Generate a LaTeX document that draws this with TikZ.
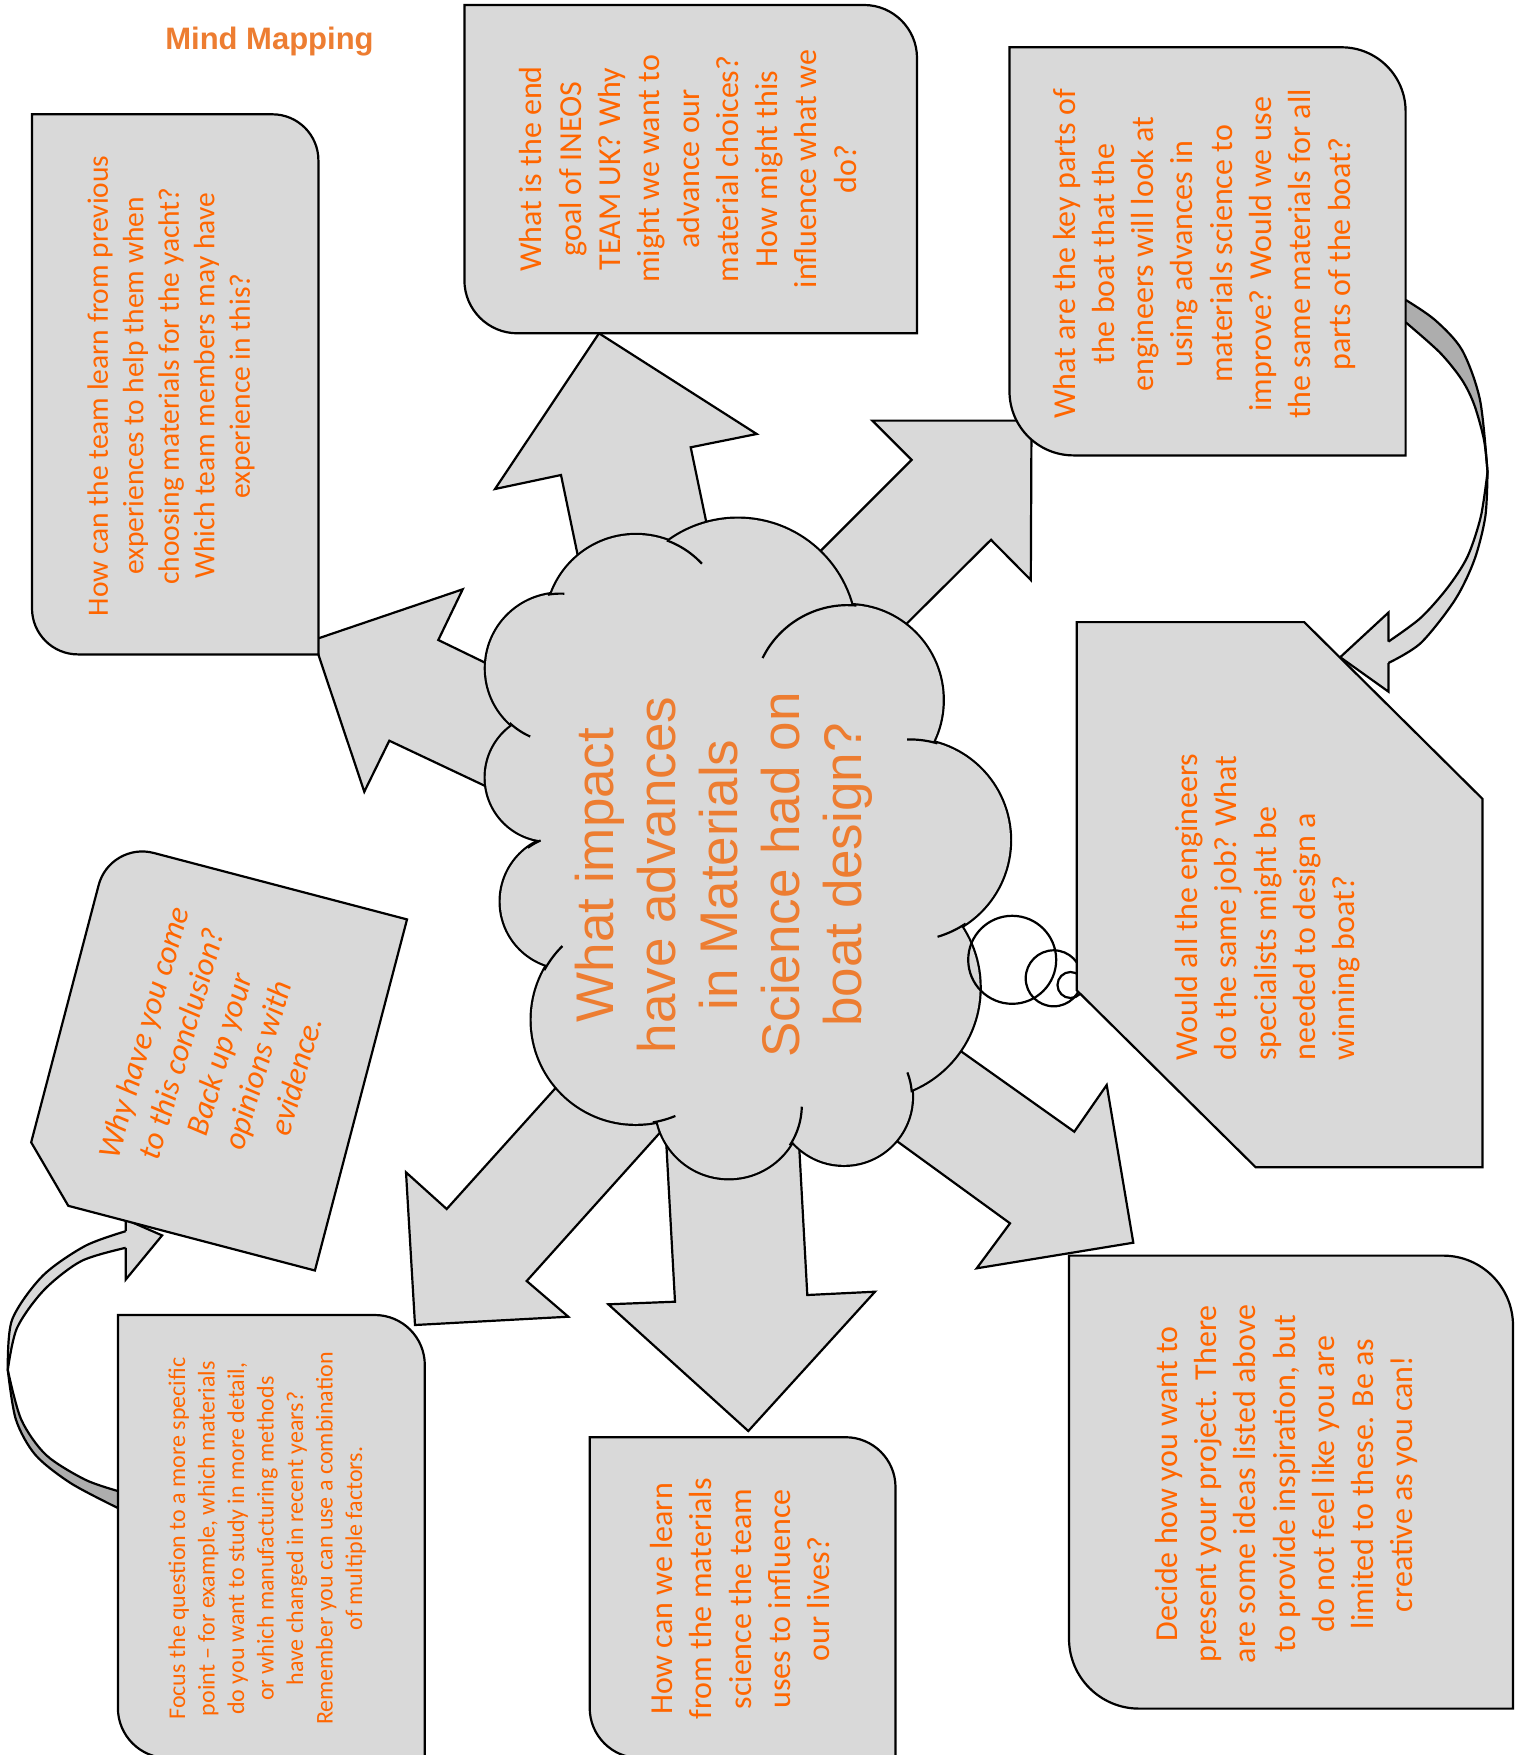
\documentclass[tikz,border=0pt]{standalone}
\usepackage{fontspec}
\setmainfont{Carlito}
\newfontfamily\carlito[Ligatures=TeX]{Carlito}
\newfontfamily\arialf[Ligatures=TeX]{Liberation Sans}
\definecolor{boxgray}{HTML}{D9D9D9}
\definecolor{bandgray}{HTML}{ADADAD}
\definecolor{txtorange}{HTML}{FF6600}
\definecolor{cloudorange}{HTML}{ED7D31}
\tikzset{
  shapeline/.style={draw=black, line width=2.2pt, line join=miter, miter limit=10, fill=boxgray},
  outline/.style={draw=black, line width=2.2pt},
  boxtext/.style={text=txtorange, align=center, rotate=90, inner sep=0pt, font=\carlito\fontsize{32}{39.3}\selectfont},
}
% rounded top-right and bottom-left corners: x1 y1 x2 y2 r
\newcommand\roundbox[5]{%
  \draw[shapeline] (#1,#2) -- ({#3-#5},#2) .. controls ({#3-0.448*#5},#2) and (#3,{#2+0.448*#5}) .. (#3,{#2+#5}) -- (#3,#4) -- ({#1+#5},#4) .. controls ({#1+0.448*#5},#4) and (#1,{#4-0.448*#5}) .. (#1,{#4-#5}) -- cycle;}
\begin{document}
\begin{tikzpicture}[x=1pt,y=-1pt]
\useasboundingbox (0,0) rectangle (1522,1755);
\clip (0,0) rectangle (1522,1755);
\fill[white] (0,0) rectangle (1522,1755);

% ---------- curved arrow upper right ----------
\fill[boxgray] plot[smooth] coordinates {(1487.5,472) (1485.3,516.6) (1474.3,560) (1454.9,600) (1420.8,643) (1388.4,663)} -- (1388.4,691.6) -- (1340.2,657.2) -- (1388.4,612.6) -- (1388.4,641.6) -- plot[smooth] coordinates {(1388.4,641.6) (1420.5,618) (1447.3,588) (1467.4,556.8) (1480.8,516.6) (1487.5,472)} -- cycle;
\fill[bandgray] plot[smooth] coordinates {(1405.8,300) (1435,320) (1462,350) (1480,400) (1487.5,472)} -- plot[smooth] coordinates {(1487.5,472) (1484,440) (1474.3,405) (1462,380) (1440,352.7) (1405.8,322.4)} -- cycle;
\draw[outline] plot[smooth] coordinates {(1405.8,300) (1435,320) (1462,350) (1480,400) (1487.5,472)};
\draw[outline] plot[smooth] coordinates {(1487.5,472) (1485.3,516.6) (1474.3,560) (1454.9,600) (1420.8,643) (1388.4,663)};
\draw[outline] plot[smooth] coordinates {(1405.8,322.4) (1440,352.7) (1462,380) (1474.3,405) (1484,440) (1487.5,472)};
\draw[outline] plot[smooth] coordinates {(1388.4,641.6) (1420.5,618) (1447.3,588) (1467.4,556.8) (1480.8,516.6) (1487.5,472)};
\draw[outline, line join=miter] (1388.4,641.6) -- (1388.4,612.6) -- (1340.2,657.2) -- (1388.4,691.6) -- (1388.4,663);

% ---------- curved arrow lower left ----------
\fill[bandgray] plot[smooth] coordinates {(117.9,1508) (70.8,1483.2) (35.4,1454.9) (15.9,1419.5) (7.8,1370)} -- plot[smooth] coordinates {(7.8,1370) (21.2,1419.5) (46,1454.9) (85,1479.6) (117.9,1491)} -- cycle;
\fill[boxgray] plot[smooth] coordinates {(7.8,1370) (12,1320) (42.5,1276) (85,1246) (125.7,1231.2)} -- (125.7,1219.5) -- (162.1,1235.4) -- (125.7,1279.6) -- (125.7,1247.8) -- plot[smooth] coordinates {(125.7,1247.8) (81.4,1261) (44,1290) (17,1328) (7.8,1370)} -- cycle;
\draw[outline] plot[smooth] coordinates {(117.9,1508) (70.8,1483.2) (35.4,1454.9) (15.9,1419.5) (7.8,1370)};
\draw[outline] plot[smooth] coordinates {(7.8,1370) (21.2,1419.5) (46,1454.9) (85,1479.6) (117.9,1491)};
\draw[outline] plot[smooth] coordinates {(7.8,1370) (12,1320) (42.5,1276) (85,1246) (125.7,1231.2)};
\draw[outline] plot[smooth] coordinates {(125.7,1247.8) (81.4,1261) (44,1290) (17,1328) (7.8,1370)};
\draw[outline, line join=miter] (125.7,1231.2) -- (125.7,1219.5) -- (162.1,1235.4) -- (125.7,1279.6) -- (125.7,1247.8);

% ---------- block arrows ----------
\draw[shapeline] (313.5,640) -- (462.7,589.3) -- (438.3,640) -- (560,699) -- (560,821.3) -- (389.3,740.7) -- (364.3,791.7) -- cycle;
\draw[shapeline] (599,333.3) -- (756.7,434) -- (690.7,447.3) -- (726.7,620) -- (591.2,620) -- (561,475) -- (495,489) -- cycle;
\draw[shapeline] (872.3,420.6) -- (1031.5,420.6) -- (1030.8,580) -- (991,539.8) -- (850,680) -- (780,591.5) -- (911.6,459.9) -- cycle;
\draw[shapeline] (900,1008) -- (1074.3,1131.7) -- (1106.7,1085) -- (1133.3,1242.7) -- (976.7,1268.3) -- (1010,1223.3) -- (850,1107) -- cycle;
\draw[shapeline] (662.8,1080) -- (675,1301.7) -- (608.3,1304.3) -- (748.3,1431) -- (875,1291.7) -- (807.3,1295) -- (796.1,1090) -- cycle;
\draw[shapeline] (600,1038.7) -- (446.7,1209) -- (406,1172.3) -- (415,1325) -- (568.3,1316.7) -- (526.7,1281) -- (690,1099.2) -- cycle;

% ---------- cloud ----------
\foreach \cx/\cy/\r in {636/625/90, 737.8/636.7/118, 847.7/700.1/95, 909.3/840.1/100.7, 868.8/987.6/110.8, 843.9/1096.8/68, 728.8/1105.2/73, 635.7/1019.8/104, 567.4/901.5/66.7, 549/777.5/63.3, 560.6/668.3/74.7}
  \draw[draw=black, line width=4.4pt, fill=boxgray] (\cx,\cy) circle[radius=\r];
\foreach \cx/\cy/\r in {636/625/90, 737.8/636.7/118, 847.7/700.1/95, 909.3/840.1/100.7, 868.8/987.6/110.8, 843.9/1096.8/68, 728.8/1105.2/73, 635.7/1019.8/104, 567.4/901.5/66.7, 549/777.5/63.3, 560.6/668.3/74.7}
  \fill[boxgray] (\cx,\cy) circle[radius=\r];
\fill[boxgray] (585.7,653.9) -- (658.6,627.6) -- (809.5,678.1) -- (877.1,766.8) -- (890.9,907.1) -- (848.8,1075.5) -- (789.5,1100.8) -- (698.3,1077.2) -- (589.9,940.5) -- (557.9,837.7) -- (554,730.1) -- cycle;
\foreach \cx/\cy/\r/\a/\b in {636/625/90/-70/-42.9, 847.7/700.1/95/-153.7/-84.7, 909.3/840.1/100.7/-91.3/-73.8, 909.3/840.1/100.7/56/73.7, 843.9/1096.8/68/-21/-3.8, 728.8/1105.2/73/1.2/33.4, 635.7/1019.8/104/-151.5/-134.8, 635.7/1019.8/104/67.6/80.5, 567.4/901.5/66.7/-126.3/-113.7, 560.6/668.3/74.7/114/132.9, 560.6/668.3/74.7/-99.8/-87.1}
  \draw[outline] plot[domain=\a:\b, samples=12, smooth] ({\cx+\r*cos(\x)},{\cy+\r*sin(\x)});

% ---------- thought bubbles ----------
\draw[outline] (1012.2,959.8) circle[radius=44];
\draw[outline] (1053.7,978.3) circle[radius=28];
\draw[outline] (1070.5,985) circle[radius=13];

% ---------- boxes ----------
\roundbox{32}{114.3}{318.4}{654.4}{46}
\roundbox{464.4}{5}{917}{333.3}{53}
\roundbox{1009.5}{47.3}{1405.6}{455.4}{64}
\draw[shapeline] (1076.8,622.1) -- (1304.2,622.1) -- (1482.5,798.9) -- (1482.5,1167.2) -- (1255.6,1167.2) -- (1076.8,990.4) -- cycle;
\begin{scope}[shift={(212.5,1056)}, rotate=-14.7]
\draw[shapeline] (-108.5,-181.5) -- (153.5,-181.5) -- (153.5,181.5) -- (-101.5,181.5) -- (-153.5,129.5) -- (-153.5,-136.5) .. controls (-153.5,-161.3) and (-133.3,-181.5) .. (-108.5,-181.5) -- cycle;
\end{scope}
\roundbox{117.9}{1315}{424.8}{1758}{50}
\roundbox{589.7}{1437.2}{895.5}{1758}{50}
\roundbox{1069}{1255.6}{1513}{1708.6}{70}

% ---------- texts ----------
\node[anchor=base, text=cloudorange, font=\arialf\bfseries\fontsize{31}{37}\selectfont] (title) at (269.5,49.1) {Mind Mapping};
\node[boxtext, font=\carlito\fontsize{29.5}{35.5}\selectfont] (t1) at (171,386) {How can the team learn from previous\\experiences to help them when\\choosing materials for the yacht?\\Which team members may have\\experience in this?};
\node[boxtext] (t2) at (688,169) {What is the end\\goal of INEOS\\TEAM UK? Why\\might we want to\\advance our\\material choices?\\How might this\\influence what we\\do?};
\node[boxtext] (t3) at (1204,254) {What are the key parts of\\the boat that the\\engineers will look at\\using advances in\\materials science to\\improve? Would we use\\the same materials for all\\parts of the boat?};
\node[boxtext, align=left] (t4) at (1267.8,907) {Would all the engineers\\do the same job? What\\specialists might be\\needed to design a\\winning boat?};
\node[boxtext, rotate=-16, font=\carlito\itshape\fontsize{32}{39.5}\selectfont] (t5) at (219.3,1054.3) {Why have you come\\to this conclusion?\\Back up your\\opinions with\\evidence.};
\node[boxtext, font=\carlito\fontsize{24}{29.5}\selectfont] (t6) at (267.3,1538.6) {Focus the question to a more specific\\point – for example, which materials\\do you want to study in more detail,\\or which manufacturing methods\\have changed in recent years?\\Remember you can use a combination\\of multiple factors.};
\node[boxtext] (t7) at (1286.5,1484) {Decide how you want to\\present your project. There\\are some ideas listed above\\to provide inspiration, but\\do not feel like you are\\limited to these. Be as\\creative as you can!};
\node[boxtext] (t8) at (740,1599) {How can we learn\\from the materials\\science the team\\uses to influence\\our lives?};
\node[text=cloudorange, align=center, rotate=90, inner sep=0pt, font=\arialf\fontsize{53}{62}\selectfont] (cloudtext) at (723.7,875) {What impact\\have advances\\in Materials\\Science had on\\boat design?};
\end{tikzpicture}
\end{document}
